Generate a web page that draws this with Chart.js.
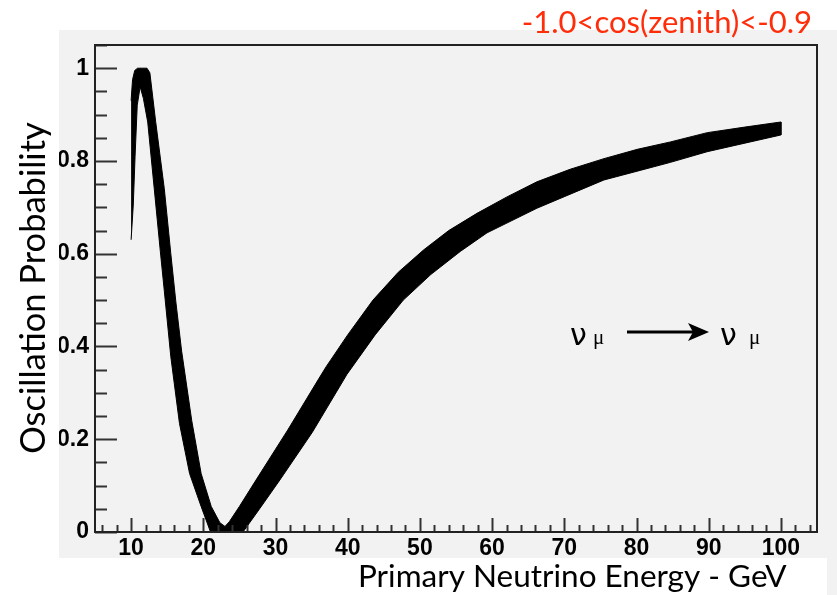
<!DOCTYPE html>
<html>
<head>
<meta charset="utf-8">
<title>Oscillation probability</title>
<script src="https://cdn.jsdelivr.net/npm/chart.js@4.4.1/dist/chart.umd.min.js"></script>
<style>
  html, body { margin: 0; padding: 0; background: #fff; }
  #wrap { width: 837px; height: 595px; }
</style>
</head>
<body>
<div id="wrap"><canvas id="probChart" width="837" height="595"></canvas></div>
<script>
// upper edge of the probability band, going up in energy (GeV)
const upperEnergy = [10.0, 10.2, 10.5, 10.9, 12.2, 12.6, 13.4, 14.6, 15.5, 16.2, 17.0, 18.4, 19.7, 21.1, 22.3, 23.0,
  23.6, 25.0, 27.3, 29.5, 31.7, 35.9, 37.0, 40.0, 43.5, 47.0, 50.5, 54.0, 57.9, 62.0, 66.2, 70.8, 75.5, 80.1, 84.7, 89.8, 95.0, 100.0];
const upperProb = [0.93, 0.975, 0.995, 1.0, 1.0, 0.99, 0.885, 0.74, 0.6, 0.496, 0.39, 0.24, 0.126, 0.055, 0.02, 0.012,
  0.022, 0.055, 0.112, 0.166, 0.22, 0.328, 0.356, 0.425, 0.5, 0.56, 0.608, 0.65, 0.687, 0.722, 0.755, 0.782, 0.805, 0.825, 0.841, 0.861, 0.873, 0.884];

// lower edge, coming back down in energy so the outline closes
const lowerEnergy = [100.0, 89.8, 84.7, 80.6, 75.5, 70.0, 66.2, 59.3, 55.6, 51.5, 47.7, 43.8, 39.9, 35.1, 30.6, 27.8, 25.5, 21.0,
  19.7, 18.1, 16.7, 15.5, 14.6, 14.1, 13.2, 12.3, 11.7, 11.25, 10.85, 10.55, 10.3, 10.0];
const lowerProb = [0.856, 0.820, 0.797, 0.780, 0.759, 0.723, 0.698, 0.645, 0.605, 0.555, 0.5, 0.425, 0.34, 0.215, 0.112, 0.05, 0.0, 0.0,
  0.055, 0.126, 0.234, 0.378, 0.52, 0.597, 0.741, 0.884, 0.935, 0.96, 0.92, 0.81, 0.705, 0.63];

const xTickValues = [10, 20, 30, 40, 50, 60, 70, 80, 90, 100];
const yTickValues = [0, 0.2, 0.4, 0.6, 0.8, 1];
const yTickLabels = ['0', '0.2', '0.4', '0.6', '0.8', '1'];

const xMinorStep = 2;
const yMinorStep = 0.05;

const bandOutline = upperEnergy.map((e, i) => ({ x: e, y: upperProb[i] }))
  .concat(lowerEnergy.map((e, i) => ({ x: e, y: lowerProb[i] })));

const tickFont = { family: "'Liberation Sans', Arial, sans-serif", size: 23, weight: 'bold' };

// ROOT-style canvas: grey pad, framed plot, inward tick marks, titles
const padPlugin = {
  id: 'pad',
  beforeDraw(chart) {
    const ctx = chart.ctx;
    ctx.save();
    ctx.fillStyle = '#ffffff';
    ctx.fillRect(0, 0, chart.width, chart.height);
    ctx.fillStyle = '#f2f2f2';
    ctx.fillRect(59, 30, chart.width - 59, chart.height - 30);
    ctx.fillStyle = '#ffffff';
    ctx.fillRect(0, 558, 827, chart.height - 558);
    ctx.restore();
  },
  afterDraw(chart) {
    const ctx = chart.ctx;
    const area = chart.chartArea;
    const xs = chart.scales.x;
    const ys = chart.scales.y;
    ctx.save();

    // tick marks on the left and bottom axes
    ctx.strokeStyle = '#333';
    ctx.lineWidth = 2;
    ctx.beginPath();
    for (let v = Math.ceil(ys.min / yMinorStep) * yMinorStep; v <= ys.max + 1e-9; v += yMinorStep) {
      const py = Math.round(ys.getPixelForValue(v)) + 0.5;
      const major = yTickValues.some((t) => Math.abs(t - v) < 1e-6);
      ctx.moveTo(area.left, py);
      ctx.lineTo(area.left + (major ? 22 : 12), py);
    }
    for (let v = Math.ceil(xs.min / xMinorStep) * xMinorStep; v <= xs.max + 1e-9; v += xMinorStep) {
      const px = Math.round(xs.getPixelForValue(v)) + 0.5;
      const major = xTickValues.some((t) => Math.abs(t - v) < 1e-6);
      ctx.moveTo(px, area.bottom);
      ctx.lineTo(px, area.bottom - (major ? 14 : 7));
    }
    ctx.stroke();

    // plot frame
    ctx.strokeStyle = '#222';
    ctx.lineWidth = 2;
    ctx.strokeRect(area.left, area.top, area.right - area.left, area.bottom - area.top);

    // axis titles
    ctx.fillStyle = '#000';
    ctx.font = '31.5px Lato, "Open Sans", sans-serif';
    ctx.textAlign = 'left';
    ctx.textBaseline = 'alphabetic';
    ctx.fillText('Primary Neutrino Energy - GeV', 358, 587);

    ctx.save();
    ctx.font = '34.5px Lato, "Open Sans", sans-serif';
    ctx.translate(45, 288);
    ctx.rotate(-Math.PI / 2);
    ctx.textAlign = 'center';
    ctx.fillText('Oscillation Probability', 0, 0);
    ctx.restore();

    // zenith bin label
    ctx.fillStyle = '#ff2d0a';
    ctx.font = '31px Lato, "Open Sans", sans-serif';
    ctx.textAlign = 'right';
    ctx.fillText('-1.0<cos(zenith)<-0.9', 812, 33);

    // channel annotation
    ctx.fillStyle = '#000';
    ctx.textAlign = 'left';
    ctx.font = '30px "DejaVu Sans", sans-serif';
    ctx.fillText('\u03bd', 570, 345);
    ctx.fillText('\u03bd', 720, 345);
    ctx.font = '21px "Liberation Serif", serif';
    ctx.fillText('\u03bc', 593, 344);
    ctx.fillText('\u03bc', 749, 344);

    ctx.strokeStyle = '#000';
    ctx.lineWidth = 3;
    ctx.beginPath();
    ctx.moveTo(627, 332);
    ctx.lineTo(696, 332);
    ctx.stroke();
    ctx.beginPath();
    ctx.moveTo(709, 332);
    ctx.lineTo(688, 323);
    ctx.lineTo(693, 332);
    ctx.lineTo(688, 341);
    ctx.closePath();
    ctx.fill();

    ctx.restore();
  }
};

new Chart(document.getElementById('probChart'), {
  type: 'scatter',
  data: {
    datasets: [{
      data: bandOutline,
      showLine: true,
      fill: 'shape',
      tension: 0,
      borderColor: '#000',
      backgroundColor: '#000',
      borderWidth: 1,
      pointRadius: 0
    }]
  },
  options: {
    responsive: false,
    animation: false,
    devicePixelRatio: 1,
    layout: { padding: { left: 59, right: 20, top: 45, bottom: 37 } },
    plugins: {
      legend: { display: false },
      tooltip: { enabled: false }
    },
    scales: {
      x: {
        type: 'linear',
        min: 5,
        max: 105,
        grid: { display: false, drawTicks: false },
        border: { display: false },
        afterBuildTicks: (scale) => { scale.ticks = xTickValues.map((v) => ({ value: v })); },
        afterFit: (scale) => { scale.height = 26; },
        ticks: { font: tickFont, color: '#000', padding: 3, maxRotation: 0, autoSkip: false }
      },
      y: {
        type: 'linear',
        min: 0,
        max: 1.05,
        grid: { display: false, drawTicks: false },
        border: { display: false },
        afterBuildTicks: (scale) => { scale.ticks = yTickValues.map((v) => ({ value: v })); },
        afterFit: (scale) => { scale.width = 36; },
        ticks: {
          font: tickFont,
          color: '#000',
          padding: 6,
          autoSkip: false,
          callback: (value, index) => yTickLabels[index]
        }
      }
    }
  },
  plugins: [padPlugin]
});
</script>
</body>
</html>
